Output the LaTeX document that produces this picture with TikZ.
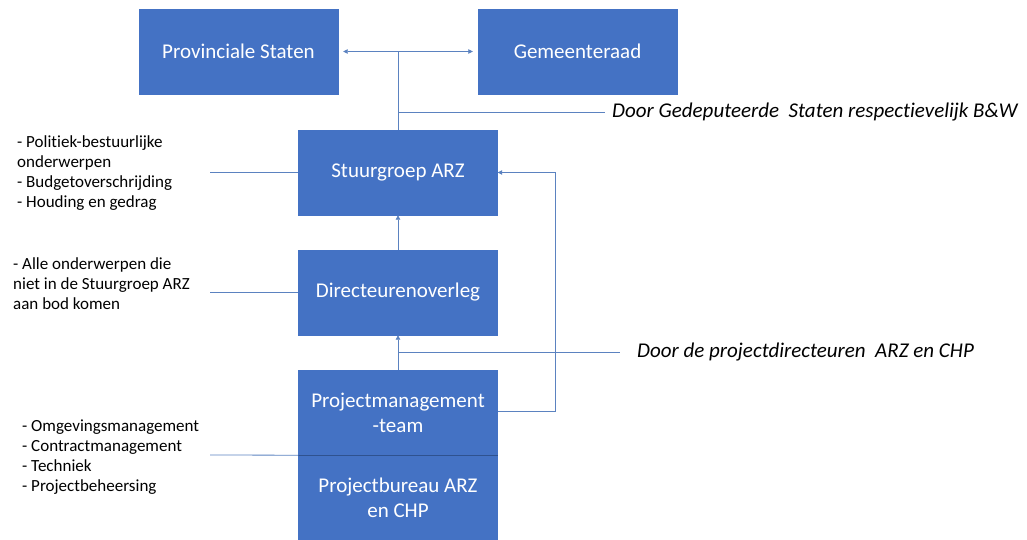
\documentclass[tikz,border=0pt]{standalone}
\usepackage{fontspec}
\setmainfont{Carlito}[Ligatures=NoCommon]
\usetikzlibrary{arrows.meta}
\definecolor{boxblue}{HTML}{4472C4}
\definecolor{linecol}{HTML}{5B82C0}
\definecolor{divcol}{HTML}{2F528F}
\begin{document}
\begin{tikzpicture}[x=1pt,y=-1pt,
  orgbox/.style={draw=boxblue,fill=boxblue,text=white,minimum width=199pt,minimum height=85pt,inner sep=2pt,align=center,font=\fontsize{21}{25}\selectfont},
  conn/.style={draw=linecol,line width=0.8pt},
  tip/.style={-{Triangle[length=4.5pt,width=4.5pt]}},
  note/.style={anchor=north west,align=left,inner sep=0pt,font=\fontsize{17}{20}\selectfont},
  remark/.style={anchor=west,inner sep=0pt,font=\fontsize{21}{25}\itshape\selectfont}]
\useasboundingbox (0,0) rectangle (1027,540);
\node[orgbox] (ps) at (238.5,51.5) {Provinciale Staten};
\node[orgbox] (gr) at (577.5,51.5) {Gemeenteraad};
\node[orgbox] (sg) at (398,172.5) {Stuurgroep ARZ};
\node[orgbox] (do) at (398,292.5) {Directeurenoverleg};
\node[orgbox] (pm) at (398,412.5) {Projectmanagement\\-team};
\node[orgbox] (pb) at (398,497.5) {Projectbureau ARZ\\en CHP};
\draw[divcol,line width=1pt] (pm.south west) -- (pm.south east);
% top arrows
\coordinate (jt) at (sg.north |- ps.east);
\draw[conn,{Triangle[length=4.5pt,width=4.5pt]}-{Triangle[length=4.5pt,width=4.5pt]},shorten <=5pt,shorten >=5pt] (ps.east) -- (gr.west);
\draw[conn] (sg.north) -- (jt);
\node[remark] (r1) at (612,112) {Door Gedeputeerde\ \ Staten respectievelijk B\&W};
\coordinate (r1a) at (sg.north |- r1.west);
\coordinate (r1b) at (605,112);
\draw[conn] (r1a) -- (r1b);
% left notes
\node[note] (n1) at (17,135.5) {- Politiek-bestuurlijke\\onderwerpen\\- Budgetoverschrijding\\- Houding en gedrag};
\coordinate (n1e) at (210,172.5);
\draw[conn] (sg.west) -- (n1e);
\node[note] (n2) at (13,257.5) {- Alle onderwerpen die\\niet in de Stuurgroep ARZ\\aan bod komen};
\coordinate (n2e) at (210,292.5);
\draw[conn] (do.west) -- (n2e);
\node[note] (n3) at (22,419.5) {- Omgevingsmanagement\\- Contractmanagement\\- Techniek\\- Projectbeheersing};
\coordinate (n3e) at (210,455);
\draw[conn] (pm.south west) -- (n3e);
% vertical arrows
\draw[conn,tip] (do.north) -- (sg.south);
\draw[conn,tip] (pm.north) -- (do.south);
% second remark
\node[remark] (r2) at (637,352) {Door de projectdirecteuren\ \ ARZ en CHP};
\coordinate (r2a) at (pm.north |- r2.west);
\coordinate (r2b) at (620,352);
\draw[conn] (r2a) -- (r2b);
% feedback loop
\coordinate (fb1) at (555,411);
\coordinate (fb2) at (555,172.5);
\draw[conn,tip] (pm.east |- fb1) -- (fb1) -- (fb2) -- (sg.east);
\end{tikzpicture}
\end{document}
